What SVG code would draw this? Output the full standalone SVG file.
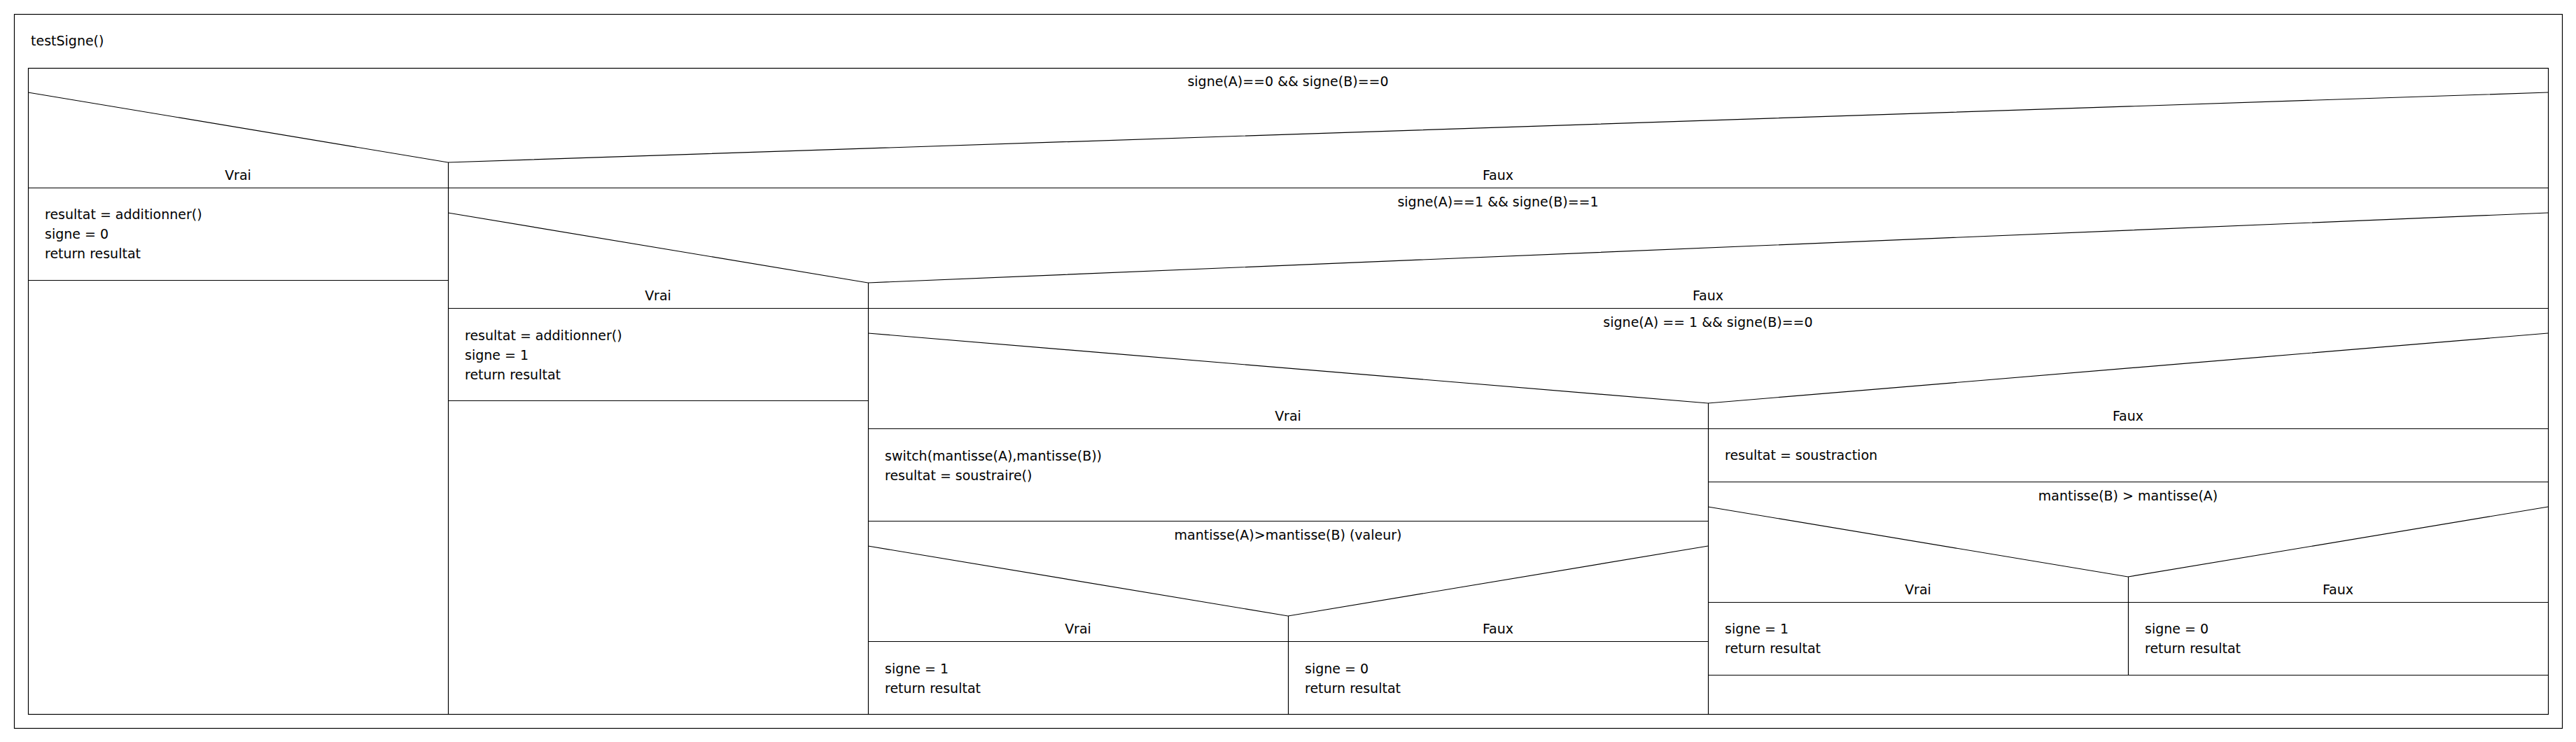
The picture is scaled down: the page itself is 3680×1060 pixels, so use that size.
<svg xmlns="http://www.w3.org/2000/svg" width="3680" height="1060" viewBox="0 0 3680 1060">
<style>
.l{stroke:#000;stroke-width:1.2;fill:none}
.t{font-family:"DejaVu Sans","Liberation Sans",sans-serif;font-size:19px;fill:#000}
.c{text-anchor:middle}
</style>
<rect width="3680" height="1060" fill="#fff"/>
<g id="frame">
<rect class="l" x="20.5" y="20.5" width="3640" height="1020"/>
<rect class="l" x="40.5" y="97.5" width="3600" height="923"/>
<text class="t" x="44" y="65">testSigne()</text>
</g>
<g id="connectors">
<line class="l" x1="40" y1="268.5" x2="3640" y2="268.5"/>
<line class="l" x1="40" y1="400.5" x2="640" y2="400.5"/>
<line class="l" x1="640" y1="440.5" x2="3640" y2="440.5"/>
<line class="l" x1="640" y1="572.5" x2="1240" y2="572.5"/>
<line class="l" x1="1240" y1="612.5" x2="3640" y2="612.5"/>
<line class="l" x1="1240" y1="744.5" x2="2440" y2="744.5"/>
<line class="l" x1="2440" y1="688.5" x2="3640" y2="688.5"/>
<line class="l" x1="1240" y1="916.5" x2="2440" y2="916.5"/>
<line class="l" x1="2440" y1="860.5" x2="3640" y2="860.5"/>
<line class="l" x1="2440" y1="964.5" x2="3640" y2="964.5"/>
<line class="l" x1="640.5" y1="232" x2="640.5" y2="1020"/>
<line class="l" x1="1240.5" y1="404" x2="1240.5" y2="1020"/>
<line class="l" x1="2440.5" y1="576" x2="2440.5" y2="1020"/>
<line class="l" x1="1840.5" y1="880" x2="1840.5" y2="1020"/>
<line class="l" x1="3040.5" y1="824" x2="3040.5" y2="964"/>
</g>
<g id="dec1">
<polyline class="l" points="40,132 640,232 3640,132"/>
<text class="t c" x="1840" y="123">signe(A)==0 &amp;&amp; signe(B)==0</text>
<text class="t c" x="340" y="257">Vrai</text>
<text class="t c" x="2140" y="257">Faux</text>
</g>
<g id="act1">
<text class="t" x="64" y="313">resultat = additionner()</text>
<text class="t" x="64" y="341">signe = 0</text>
<text class="t" x="64" y="369">return resultat</text>
</g>
<g id="dec2">
<polyline class="l" points="640,304 1240,404 3640,304"/>
<text class="t c" x="2140" y="295">signe(A)==1 &amp;&amp; signe(B)==1</text>
<text class="t c" x="940" y="429">Vrai</text>
<text class="t c" x="2440" y="429">Faux</text>
</g>
<g id="act2">
<text class="t" x="664" y="486">resultat = additionner()</text>
<text class="t" x="664" y="514">signe = 1</text>
<text class="t" x="664" y="542">return resultat</text>
</g>
<g id="dec3">
<polyline class="l" points="1240,476 2440,576 3640,476"/>
<text class="t c" x="2440" y="467">signe(A) == 1 &amp;&amp; signe(B)==0</text>
<text class="t c" x="1840" y="601">Vrai</text>
<text class="t c" x="3040" y="601">Faux</text>
</g>
<g id="act3">
<text class="t" x="1264" y="658">switch(mantisse(A),mantisse(B))</text>
<text class="t" x="1264" y="686">resultat = soustraire()</text>
</g>
<g id="dec4">
<polyline class="l" points="1240,780 1840,880 2440,780"/>
<text class="t c" x="1840" y="771">mantisse(A)&gt;mantisse(B) (valeur)</text>
<text class="t c" x="1540" y="905">Vrai</text>
<text class="t c" x="2140" y="905">Faux</text>
</g>
<g id="act4">
<text class="t" x="1264" y="962">signe = 1</text>
<text class="t" x="1264" y="990">return resultat</text>
</g>
<g id="act5">
<text class="t" x="1864" y="962">signe = 0</text>
<text class="t" x="1864" y="990">return resultat</text>
</g>
<g id="act6">
<text class="t" x="2464" y="657">resultat = soustraction</text>
</g>
<g id="dec5">
<polyline class="l" points="2440,724 3040,824 3640,724"/>
<text class="t c" x="3040" y="715">mantisse(B) &gt; mantisse(A)</text>
<text class="t c" x="2740" y="849">Vrai</text>
<text class="t c" x="3340" y="849">Faux</text>
</g>
<g id="act7">
<text class="t" x="2464" y="905">signe = 1</text>
<text class="t" x="2464" y="933">return resultat</text>
</g>
<g id="act8">
<text class="t" x="3064" y="905">signe = 0</text>
<text class="t" x="3064" y="933">return resultat</text>
</g>
</svg>
